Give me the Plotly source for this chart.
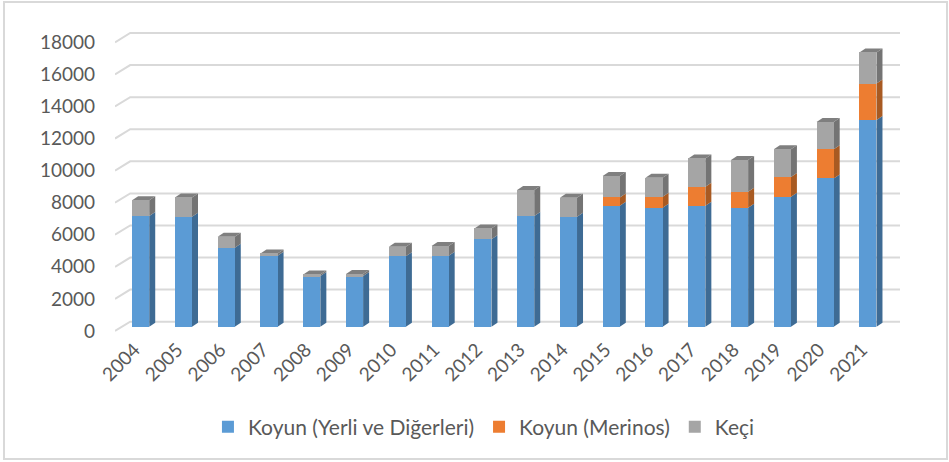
import plotly.graph_objects as go

years = [str(y) for y in range(2004, 2022)]
koyun_yerli = [6900, 6850, 4920, 4420, 3160, 3160, 4400, 4420, 5450, 6900,
               6850, 7540, 7415, 7540, 7415, 8100, 9245, 12880]
koyun_merinos = [0, 0, 0, 0, 0, 0, 0, 0, 0, 0,
                 0, 520, 685, 1180, 995, 1230, 1825, 2280]
keci = [990, 1210, 690, 150, 100, 120, 585, 610, 680, 1620,
        1190, 1330, 1185, 1770, 1980, 1740, 1700, 1940]
series_names = ["Koyun (Yerli ve Diğerleri)", "Koyun (Merinos)", "Keçi"]
y_ticks = list(range(0, 18001, 2000))

colors = ["#5b9bd5", "#ed7d31", "#a5a5a5"]
side_colors = ["#3e6b94", "#a85a22", "#747474"]
top_colors = ["#4f86b8", "#c96a28", "#7f7f7f"]

W, H = 949, 462
m_l, m_r, m_t, m_b = 115, 49, 30, 130
x_range = [-0.6, 17.75]
y_range = [-330.5, 18499]
units_per_px = (y_range[1] - y_range[0]) / (H - m_t - m_b)

bar_w = 0.4
dx = 6 / ((W - m_l - m_r) / (x_range[1] - x_range[0]))
dy = 4 * units_per_px
front_off = 4.3 * units_per_px
back_off = 5.0 * units_per_px
back_x = -0.245

fig = go.Figure()
all_series = [koyun_yerli, koyun_merinos, keci]
for name, vals, c in zip(series_names, all_series, colors):
    fig.add_trace(go.Bar(x=years, y=vals, name=name, width=bar_w,
                         marker=dict(color=c, line=dict(width=0))))

shapes = []
# 3D-style gridlines
for v in y_ticks:
    shapes.append(dict(type="path", xref="x", yref="y", layer="below",
                       path=f"M {x_range[0]},{v - front_off} L {back_x},{v + back_off} L {x_range[1]},{v + back_off}",
                       line=dict(color="#d9d9d9", width=2)))

# side and top faces of bars
for i in range(len(years)):
    base = 0
    segs = []
    for s, vals in enumerate(all_series):
        if vals[i] > 0:
            segs.append((s, base, base + vals[i]))
            base += vals[i]
    xr = i + bar_w / 2
    xl = i - bar_w / 2
    for s, b, t in segs:
        shapes.append(dict(type="path", xref="x", yref="y", layer="below",
                           path=f"M {xr},{b} L {xr + dx},{b + dy} L {xr + dx},{t + dy} L {xr},{t} Z",
                           fillcolor=side_colors[s], line=dict(width=0)))
    s, b, t = segs[-1]
    shapes.append(dict(type="path", xref="x", yref="y", layer="below",
                       path=f"M {xl},{t} L {xr},{t} L {xr + dx},{t + dy} L {xl + dx},{t + dy} Z",
                       fillcolor=top_colors[s], line=dict(width=0)))

# outer border
pw, ph = W - m_l - m_r, H - m_t - m_b
shapes.append(dict(type="rect", xref="paper", yref="paper",
                   x0=(4 - m_l) / pw, x1=(947 - m_l) / pw,
                   y0=(H - m_b - 459) / ph, y1=(H - m_b - 2) / ph,
                   line=dict(color="#d9d9d9", width=2), fillcolor="rgba(0,0,0,0)"))

font_family = "Lato, 'Open Sans', sans-serif"
fig.update_layout(
    width=W, height=H, barmode="stack",
    margin=dict(l=m_l, r=m_r, t=m_t, b=m_b, autoexpand=False),
    paper_bgcolor="white", plot_bgcolor="white",
    font=dict(family=font_family, size=19, color="#595959"),
    shapes=shapes,
    xaxis=dict(type="category", range=x_range, showgrid=False, showline=False,
               zeroline=False, tickangle=-45, ticks="",
               ticklabelshift=-6, ticklabelstandoff=2,
               tickfont=dict(size=19, color="#595959")),
    yaxis=dict(range=y_range, showgrid=False, zeroline=False, showline=False,
               tickvals=[v - front_off for v in y_ticks],
               ticktext=[str(v) for v in y_ticks], ticks="",
               ticklabelstandoff=19,
               tickfont=dict(size=19, color="#595959")),
    legend=dict(orientation="h", x=0.47, xanchor="center",
                y=(H - m_b - 427) / ph, yanchor="middle",
                font=dict(size=21, color="#595959"), itemwidth=30,
                traceorder="normal"),
    showlegend=True,
)

fig.write_html("out.html", config={"displayModeBar": False},
               post_script="document.body.style.margin='0';document.body.style.overflow='hidden';")
